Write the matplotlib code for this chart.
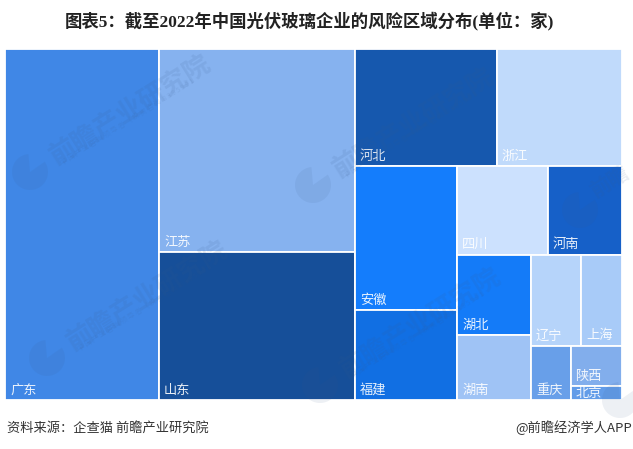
import matplotlib
matplotlib.use("Agg")
import matplotlib.pyplot as plt
from matplotlib.patches import Rectangle, Wedge

plt.rcParams['font.family'] = ['Noto Sans CJK SC', 'DejaVu Sans']

# values estimated from the areas in the picture
provinces = ['广东', '江苏', '山东', '河北', '浙江', '安徽', '福建', '四川',
             '河南', '湖北', '湖南', '辽宁', '上海', '重庆', '陕西', '北京']
counts = [75.7, 55.7, 40.6, 23.3, 20.5, 20.6, 12.9, 11.3,
          9.2, 8.3, 6.7, 6.4, 5.2, 3.0, 2.9, 1.0]
colors = ['#4087e6', '#86b2ef', '#164f99', '#1658ae', '#c0dafb', '#147dfc', '#116fe3', '#cce1fe',
          '#1660c8', '#147bf8', '#9fc3f5', '#b6d4fa', '#a8cbf8', '#689fe9', '#82aeec', '#629ce8']

value_of = dict(zip(provinces, counts))
color_of = dict(zip(provinces, colors))

# how the treemap nests: 'h' splits left/right, 'v' splits top/bottom
tree = ('h', ['广东',
              ('v', ['江苏', '山东']),
              ('v', [('h', ['河北', '浙江']),
                     ('h', [('v', ['安徽', '福建']),
                            ('v', [('h', ['四川', '河南']),
                                   ('h', [('v', ['湖北', '湖南']),
                                          ('v', [('h', ['辽宁', '上海']),
                                                 ('h', ['重庆', ('v', ['陕西', '北京'])])])])])])])])


def node_total(node):
    if isinstance(node, str):
        return value_of[node]
    return sum(node_total(c) for c in node[1])


def layout(node, x, y, w, h, out):
    if isinstance(node, str):
        out.append((node, x, y, w, h))
        return
    total = node_total(node)
    pos = 0
    for child in node[1]:
        share = node_total(child) / total
        if node[0] == 'h':
            layout(child, x + pos * w, y, w * share, h, out)
        else:
            layout(child, x, y + pos * h, w, h * share, out)
        pos += share


W, H = 633, 449
fig = plt.figure(figsize=(W / 100, H / 100), dpi=100)
ax = fig.add_axes([5 / W, 1 - 400 / H, 617 / W, 351 / H])
ax.set_xlim(0, 1)
ax.set_ylim(1, 0)
ax.axis('off')

boxes = []
layout(tree, 0, 0, 1, 1, boxes)
for name, x, y, w, h in boxes:
    rect = Rectangle((x, y), w, h, facecolor=color_of[name], edgecolor='white', linewidth=1.3)
    ax.add_patch(rect)
    # thin boxes get the label from the top, and it gets cut by the box
    if h * 351 < 20:
        ann = ax.annotate(name, xy=(x, y), xytext=(5, -1), textcoords='offset pixels',
                          color='white', fontsize=9.5, va='top', ha='left', alpha=0.9)
    else:
        ann = ax.annotate(name, xy=(x, y + h), xytext=(5, 3.5), textcoords='offset pixels',
                          color='white', fontsize=9.5, va='bottom', ha='left', alpha=0.9)
    ann.set_clip_path(rect)

# watermark layer in picture pixels, on top of everything
wm = fig.add_axes([0, 0, 1, 1], facecolor='none')
wm.set_xlim(0, W)
wm.set_ylim(H, 0)
wm.axis('off')
wm_color = '#3a5a8a'
wm_logos = [(30, 172), (47, 358), (313, 185), (320, 385), (580, 210), (620, 400)]
wm_names = ['前瞻产业研究院', '前瞻产业研究院', '前瞻产业研究院', '前瞻产业研究院', '前瞻', '']
for (lx, ly), name in zip(wm_logos, wm_names):
    wm.add_patch(Wedge((lx, ly), 18, -35, 265, facecolor=wm_color, edgecolor='none', alpha=0.09))
    if name == '前瞻产业研究院':
        wm.text(lx + 100, ly - 62, name, color=wm_color, alpha=0.11, fontsize=19, rotation=32,
                ha='center', va='center', fontweight='bold')
        wm.text(lx + 98, ly - 50, '中 国 产 业 咨 询 领 导 者 （ 投 资 咨 询  8 3 9 5 9 9 1', color=wm_color,
                alpha=0.11, fontsize=5, rotation=32, ha='center', va='center')
    elif name:
        wm.text(lx + 29, ly - 28, name, color=wm_color, alpha=0.11, fontsize=15, rotation=32,
                ha='center', va='center', fontweight='bold')

fig.text(309 / W, 1 - 21 / H, '图表5：截至2022年中国光伏玻璃企业的风险区域分布(单位：家)',
         family=['Liberation Serif', 'Noto Sans CJK SC'], fontweight='bold', fontsize=12.5,
         color='#222222', ha='center', va='center')
fig.text(7 / W, 1 - 428 / H, '资料来源：企查猫 前瞻产业研究院', fontsize=9.5, color='#333333', ha='left', va='center')
fig.text(632 / W, 1 - 428 / H, '@前瞻经济学人APP', fontsize=9.5, color='#333333', ha='right', va='center')

fig.savefig('out.png', dpi=100)
